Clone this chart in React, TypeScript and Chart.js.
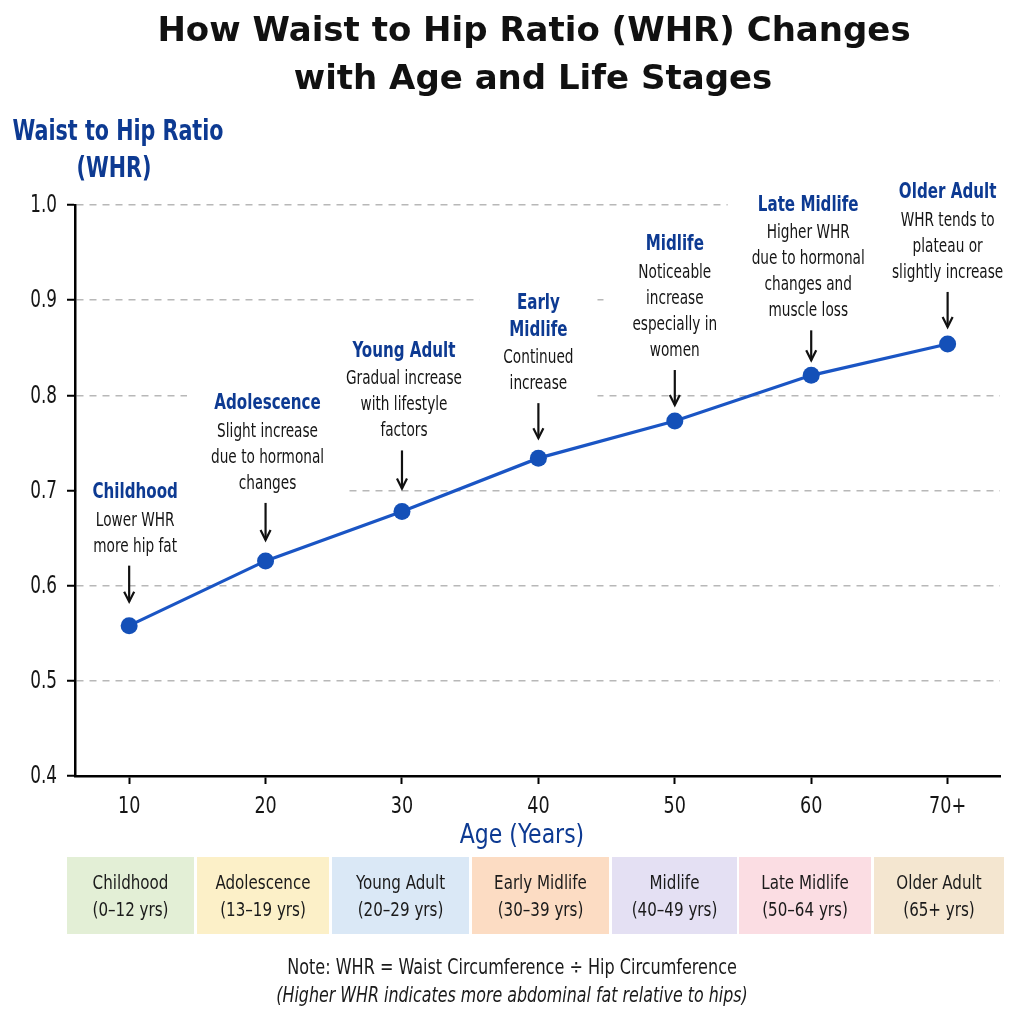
import { useEffect, useRef } from "react";
import { Chart, registerables } from "chart.js";

Chart.register(...registerables);

// ---- data ----
const AGES = [10, 20, 30, 40, 50, 60, 70];
const AGE_TICK_LABELS = ["10", "20", "30", "40", "50", "60", "70+"];
const WHR = [0.558, 0.626, 0.678, 0.734, 0.773, 0.821, 0.854];
const Y_TICKS = [0.4, 0.5, 0.6, 0.7, 0.8, 0.9, 1.0];

const STAGE_TITLES = [
  ["Childhood"],
  ["Adolescence"],
  ["Young Adult"],
  ["Early", "Midlife"],
  ["Midlife"],
  ["Late Midlife"],
  ["Older Adult"],
];
const STAGE_NOTES = [
  ["Lower WHR", "more hip fat"],
  ["Slight increase", "due to hormonal", "changes"],
  ["Gradual increase", "with lifestyle", "factors"],
  ["Continued", "increase"],
  ["Noticeable", "increase", "especially in", "women"],
  ["Higher WHR", "due to hormonal", "changes and", "muscle loss"],
  ["WHR tends to", "plateau or", "slightly increase"],
];

const BAND_NAMES = [
  "Childhood",
  "Adolescence",
  "Young Adult",
  "Early Midlife",
  "Midlife",
  "Late Midlife",
  "Older Adult",
];
const BAND_RANGES = [
  "(0–12 yrs)",
  "(13–19 yrs)",
  "(20–29 yrs)",
  "(30–39 yrs)",
  "(40–49 yrs)",
  "(50–64 yrs)",
  "(65+ yrs)",
];

const TITLE_LINES = ["How Waist to Hip Ratio (WHR) Changes", "with Age and Life Stages"];
const Y_TITLE_LINES = ["Waist to Hip Ratio", "(WHR)"];
const X_TITLE = "Age (Years)";
const NOTE_LINES = [
  "Note: WHR = Waist Circumference ÷ Hip Circumference",
  "(Higher WHR indicates more abdominal fat relative to hips)",
];

// ---- styling / layout ----
const COND = '"DejaVu Sans Condensed", "DejaVu Sans", sans-serif';
const TITLE_FONT = '"DejaVu Sans", sans-serif';
const NAVY = "#0d3a92";
const LINE_BLUE = "#1a55c4";
const POINT_BLUE = "#1450b8";
const INK = "#151515";

// per-callout tweaks: horizontal text shift, arrow tip gap above the point, arrow length
const CALLOUT_LAYOUT = [
  { dx: 6, tip: 24, len: 36 },
  { dx: 2, tip: 21, len: 37 },
  { dx: 2, tip: 23, len: 38 },
  { dx: 0, tip: 20, len: 35 },
  { dx: 0, tip: 16, len: 35 },
  { dx: -3, tip: 15, len: 30 },
  { dx: 0, tip: 17, len: 35 },
];

const BAND_BOXES = [
  [67, 194],
  [197, 329],
  [332, 469],
  [472, 609],
  [612, 737],
  [739, 871],
  [874, 1004],
];
const BAND_TOP = 857;
const BAND_BOTTOM = 934;
const BAND_COLORS = ["#e3efd6", "#fcf0c8", "#dae8f6", "#fcdcc3", "#e4e0f3", "#fbdde3", "#f4e6d0"];

// text squeezed horizontally to get a narrow face
function ctext(
  ctx: CanvasRenderingContext2D,
  text: string,
  x: number,
  y: number,
  font: string,
  color: string,
  sx: number,
  align: CanvasTextAlign = "center"
) {
  ctx.save();
  ctx.font = font;
  ctx.fillStyle = color;
  ctx.textAlign = align;
  ctx.textBaseline = "middle";
  ctx.translate(x, y);
  ctx.scale(sx, 1);
  ctx.fillText(text, 0, 0);
  ctx.restore();
}

function textWidth(ctx: CanvasRenderingContext2D, text: string, font: string, sx: number) {
  ctx.save();
  ctx.font = font;
  const w = ctx.measureText(text).width * sx;
  ctx.restore();
  return w;
}

const CALL_TITLE_FONT = `bold 21px ${COND}`;
const CALL_TITLE_SX = 0.8;
const CALL_BODY_FONT = `19px ${COND}`;
const CALL_BODY_SX = 0.8;

function drawArrow(ctx: CanvasRenderingContext2D, x: number, yTop: number, yTip: number) {
  ctx.save();
  ctx.strokeStyle = "#111";
  ctx.lineWidth = 2.2;
  ctx.beginPath();
  ctx.moveTo(x, yTop);
  ctx.lineTo(x, yTip);
  ctx.stroke();
  ctx.beginPath();
  ctx.moveTo(x - 5, yTip - 10);
  ctx.lineTo(x, yTip);
  ctx.lineTo(x + 5, yTip - 10);
  ctx.stroke();
  ctx.restore();
}

function calloutGeometry(chart: any, i: number) {
  const meta = chart.getDatasetMeta(0);
  const pt = meta.data[i];
  const lay = CALLOUT_LAYOUT[i];
  const tipY = pt.y - lay.tip;
  const topY = tipY - lay.len;
  const notes = STAGE_NOTES[i];
  const titles = STAGE_TITLES[i];
  const lastBody = topY - 19;
  const bodyYs = notes.map((_, k) => lastBody - (notes.length - 1 - k) * 26);
  const firstTitle = bodyYs[0] - 28 - (titles.length - 1) * 27;
  const titleYs = titles.map((_, k) => firstTitle + k * 27);
  return { x: pt.x, tx: pt.x + lay.dx, tipY, topY, bodyYs, titleYs };
}

const calloutPlugin = {
  id: "stageCallouts",
  beforeDatasetsDraw(chart: any) {
    const ctx: CanvasRenderingContext2D = chart.ctx;
    const area = chart.chartArea;
    // white boxes behind callout text
    AGES.forEach((_, i) => {
      const g = calloutGeometry(chart, i);
      let w = 0;
      STAGE_TITLES[i].forEach((t) => (w = Math.max(w, textWidth(ctx, t, CALL_TITLE_FONT, CALL_TITLE_SX))));
      STAGE_NOTES[i].forEach((t) => (w = Math.max(w, textWidth(ctx, t, CALL_BODY_FONT, CALL_BODY_SX))));
      const top = g.titleYs[0] - 20;
      const bottom = g.bodyYs[g.bodyYs.length - 1] + 32;
      const left = Math.max(area.left + 2, g.tx - w / 2 - 24);
      const right = Math.min(area.right, g.tx + w / 2 + 24);
      ctx.save();
      ctx.fillStyle = "#ffffff";
      ctx.fillRect(left, top, right - left, bottom - top);
      ctx.restore();
    });
    // text and arrows
    AGES.forEach((_, i) => {
      const g = calloutGeometry(chart, i);
      STAGE_TITLES[i].forEach((t, k) => ctext(ctx, t, g.tx, g.titleYs[k], CALL_TITLE_FONT, NAVY, CALL_TITLE_SX));
      STAGE_NOTES[i].forEach((t, k) => ctext(ctx, t, g.tx, g.bodyYs[k], CALL_BODY_FONT, INK, CALL_BODY_SX));
      drawArrow(ctx, g.x, g.topY, g.tipY);
    });
  },
  afterDraw(chart: any) {
    const ctx: CanvasRenderingContext2D = chart.ctx;
    const xs = chart.scales.x;
    const ys = chart.scales.y;

    // tick labels
    Y_TICKS.forEach((v) => {
      ctext(ctx, v.toFixed(1), 57, ys.getPixelForValue(v) + 1, `24px ${COND}`, INK, 0.78, "right");
    });
    AGES.forEach((v, i) => {
      ctext(ctx, AGE_TICK_LABELS[i], xs.getPixelForValue(v), 807, `23px ${COND}`, INK, 0.85);
    });

    // main title
    ctx.save();
    ctx.textAlign = "center";
    ctx.textBaseline = "middle";
    ctx.fillStyle = "#111";
    ctx.font = `bold 34px ${TITLE_FONT}`;
    ctx.fillText(TITLE_LINES[0], 534, 32);
    ctx.fillText(TITLE_LINES[1], 533, 80);
    ctx.restore();

    // axis titles
    ctext(ctx, Y_TITLE_LINES[0], 118, 133, `bold 28px ${COND}`, NAVY, 0.82);
    ctext(ctx, Y_TITLE_LINES[1], 114, 170, `bold 28px ${COND}`, NAVY, 0.82);
    ctext(ctx, X_TITLE, 522, 836, `26px ${COND}`, NAVY, 0.94);

    // life stage bands
    BAND_BOXES.forEach(([x0, x1], i) => {
      ctx.save();
      ctx.fillStyle = BAND_COLORS[i];
      ctx.fillRect(x0, BAND_TOP, x1 - x0, BAND_BOTTOM - BAND_TOP);
      ctx.restore();
      const cx = (x0 + x1) / 2;
      ctext(ctx, BAND_NAMES[i], cx, 884, `20px ${COND}`, "#1a1a1a", 0.84);
      ctext(ctx, BAND_RANGES[i], cx, 911, `20px ${COND}`, "#1a1a1a", 0.84);
    });

    // footnote
    ctext(ctx, NOTE_LINES[0], 512, 969, `21px ${COND}`, "#1a1a1a", 0.85);
    ctext(ctx, NOTE_LINES[1], 512, 997, `italic 21px ${COND}`, "#1a1a1a", 0.84);
  },
};

const whiteBg = {
  id: "whiteBg",
  beforeDraw(chart: any) {
    const ctx = chart.ctx;
    ctx.save();
    ctx.fillStyle = "#ffffff";
    ctx.fillRect(0, 0, chart.width, chart.height);
    ctx.restore();
  },
};

export default function App() {
  const canvasRef = useRef<HTMLCanvasElement | null>(null);

  useEffect(() => {
    const canvas = canvasRef.current;
    if (!canvas) return;
    const chart = new Chart(canvas, {
      type: "line",
      data: {
        datasets: [
          {
            data: AGES.map((a, i) => ({ x: a, y: WHR[i] })),
            borderColor: LINE_BLUE,
            borderWidth: 3.2,
            pointRadius: 8.5,
            pointBackgroundColor: POINT_BLUE,
            pointBorderColor: POINT_BLUE,
            pointBorderWidth: 0,
            tension: 0,
          },
        ],
      },
      options: {
        responsive: false,
        animation: false,
        devicePixelRatio: 1,
        layout: { padding: { top: 205, left: 0, right: 24, bottom: 188 } },
        plugins: {
          legend: { display: false },
          tooltip: { enabled: false },
          title: { display: false },
        },
        scales: {
          x: {
            type: "linear",
            min: 6.03,
            max: 73.84,
            afterBuildTicks: (s: any) => {
              s.ticks = AGES.map((v) => ({ value: v }));
            },
            afterFit: (s: any) => {
              s.height = 60;
            },
            grid: { drawOnChartArea: false, tickLength: 8, tickColor: "#000", tickWidth: 2 },
            border: { color: "#000", width: 2.5 },
            ticks: { color: "rgba(0,0,0,0)", autoSkip: false, maxRotation: 0 },
          },
          y: {
            type: "linear",
            min: 0.4,
            max: 1.0,
            afterBuildTicks: (s: any) => {
              s.ticks = Y_TICKS.map((v) => ({ value: v }));
            },
            afterFit: (s: any) => {
              s.width = 75;
            },
            grid: {
              color: (c: any) => (c.tick && c.tick.value < 0.45 ? "rgba(0,0,0,0)" : "#b8b8b8"),
              lineWidth: 1.5,
              tickLength: 8,
              tickColor: "#000",
              tickWidth: 2,
            },
            border: { color: "#000", width: 2.5, dash: [7, 6] },
            ticks: { color: "rgba(0,0,0,0)" },
          },
        },
      },
      plugins: [whiteBg, calloutPlugin],
    } as any);
    return () => chart.destroy();
  }, []);

  return (
    <div style={{ position: "absolute", left: 0, top: 0, width: 1024, height: 1024, background: "#fff" }}>
      <canvas ref={canvasRef} width={1024} height={1024} style={{ display: "block" }} />
    </div>
  );
}
